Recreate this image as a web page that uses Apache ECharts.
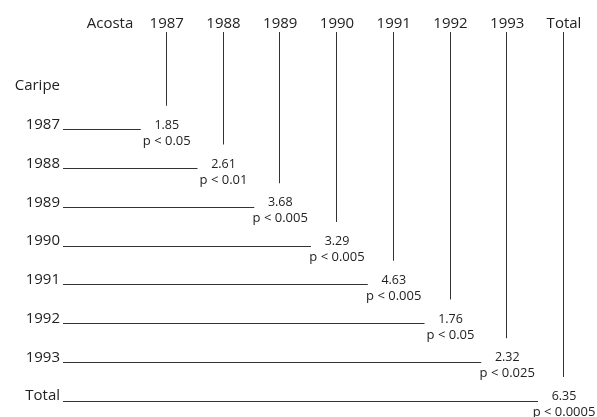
<!DOCTYPE html>
<html><head><meta charset="utf-8">
<script src="https://cdn.jsdelivr.net/npm/echarts@6/dist/echarts.min.js"></script>
<style>html,body{margin:0;padding:0;background:#fff}#c{width:597px;height:417px}</style>
</head><body><div id="c"></div>
<script>
const columnLabels = ["Acosta","1987","1988","1989","1990","1991","1992","1993","Total"];
const rowLabels = ["Caripe","1987","1988","1989","1990","1991","1992","1993","Total"];
const pairs = ["1987","1988","1989","1990","1991","1992","1993","Total"];
const values = [1.85,2.61,3.68,3.29,4.63,1.76,2.32,6.35];
const pValues = ["p < 0.05","p < 0.01","p < 0.005","p < 0.005","p < 0.005","p < 0.05","p < 0.025","p < 0.0005"];

const FONT = "Open Sans";
const INK = "#222";
const LINE = "#333";

const data = pairs.map((p, i) => [columnLabels.indexOf(p), rowLabels.indexOf(p), values[i], pValues[i]]);

function renderItem(params, api) {
  const c = api.coord([api.value(0), api.value(1)]);
  const left = api.coord([0, api.value(1)])[0];
  const top = api.coord([api.value(0), 0])[1];
  const v = api.value(2);
  const p = pValues[params.dataIndex];
  return {
    type: 'group',
    children: [
      { type: 'line', shape: { x1: left - 47, y1: Math.round(c[1] + 4.5) + 0.5, x2: c[0] - 26, y2: Math.round(c[1] + 4.5) + 0.5 },
        style: { stroke: LINE, lineWidth: 1 } },
      { type: 'line', shape: { x1: Math.round(c[0]) - 0.5, y1: top - 54, x2: Math.round(c[0]) - 0.5, y2: c[1] - 19 },
        style: { stroke: LINE, lineWidth: 1 } },
      { type: 'text', x: c[0], y: c[1] + 0.5,
        style: { text: Number(v).toFixed(2), align: 'center', verticalAlign: 'middle',
                 fontSize: 12.5, fontFamily: FONT, fill: INK } },
      { type: 'text', x: c[0], y: c[1] + 16.5,
        style: { text: p, align: 'center', verticalAlign: 'middle',
                 fontSize: 13, fontFamily: FONT, fill: INK } }
    ]
  };
}

const chart = echarts.init(document.getElementById('c'), null, { renderer: 'canvas' });
chart.setOption({
  animation: false,
  backgroundColor: '#fff',
  grid: { left: 110, right: 33, top: 86, bottom: 21 },
  xAxis: {
    type: 'category', position: 'top', data: columnLabels, boundaryGap: false,
    axisLine: { show: false }, axisTick: { show: false }, splitLine: { show: false },
    axisLabel: { interval: 0, margin: 55, fontSize: 15, fontFamily: FONT, color: INK }
  },
  yAxis: {
    type: 'category', inverse: true, data: rowLabels, boundaryGap: false,
    axisLine: { show: false }, axisTick: { show: false }, splitLine: { show: false },
    axisLabel: { interval: 0, margin: 50, fontSize: 15, fontFamily: FONT, color: INK }
  },
  series: [{
    type: 'custom', renderItem: renderItem, data: data, clip: false,
    encode: { x: 0, y: 1 }
  }]
});
</script>
</body></html>
